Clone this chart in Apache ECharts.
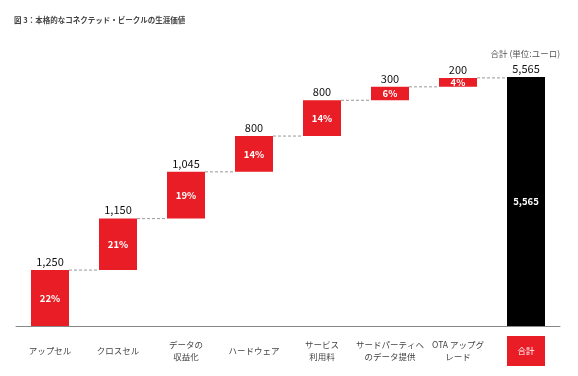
<!DOCTYPE html>
<html>
<head>
<meta charset="utf-8">
<script src="https://cdn.jsdelivr.net/npm/echarts@6/dist/echarts.min.js"></script>
<style>
html, body { margin: 0; padding: 0; background: #fff; }
#chart { width: 578px; height: 376px; }
</style>
</head>
<body>
<div id="chart"></div>
<script>
// 本格的なコネクテッド・ビークルの生涯価値
const categories = ['アップセル', 'クロスセル', 'データの\n収益化', 'ハードウェア', 'サービス\n利用料', 'サードパーティへ\nのデータ提供', 'OTA アップグ\nレード', '合計'];
const values = [1250, 1150, 1045, 800, 800, 300, 200];
const shares = ['22%', '21%', '19%', '14%', '14%', '6%', '4%'];
const total = 5565;

const RED = '#e91d25';
const fmt = v => v.toLocaleString('en-US');

const base = [];
const tops = [];
let acc = 0;
values.forEach(v => { base.push(acc); acc += v; tops.push(acc); });

const chart = echarts.init(document.getElementById('chart'));
const fontFamily = '"Noto Sans CJK JP", "Noto Sans", sans-serif';

const option = {
  animation: false,
  textStyle: { fontFamily: fontFamily },
  title: [
    {
      text: '図 3：本格的なコネクテッド・ビークルの生涯価値',
      left: 9, top: 11,
      textStyle: { fontSize: 7.5, fontWeight: 'bold', color: '#444', fontFamily: fontFamily }
    },
    {
      text: '合計 (単位:ユーロ)',
      right: 13, top: 45,
      textStyle: { fontSize: 8.5, fontWeight: 'normal', color: '#555', fontFamily: fontFamily }
    }
  ],
  grid: { left: 16, right: 18, top: 77, bottom: 50 },
  xAxis: {
    type: 'category',
    data: categories,
    axisTick: { show: false },
    axisLine: { lineStyle: { color: '#888', width: 1 } },
    axisLabel: {
      interval: 0,
      fontSize: 8.5,
      color: '#444',
      lineHeight: 12,
      margin: 25,
      verticalAlign: 'middle',
      formatter: (v, i) => i === 7 ? '{tot|' + v + '}' : v,
      rich: {
        tot: {
          backgroundColor: RED, color: '#fff', width: 38, height: 30,
          lineHeight: 30, align: 'center', fontSize: 8.5
        }
      }
    }
  },
  yAxis: {
    type: 'value', min: 0, max: total, show: false,
    splitLine: { show: false }
  },
  series: [
    {
      name: 'base', type: 'bar', stack: 'w', barWidth: 38,
      itemStyle: { color: 'transparent' },
      data: base.concat([0]),
      silent: true
    },
    {
      name: 'value', type: 'bar', stack: 'w', barWidth: 38,
      itemStyle: { color: RED },
      data: values.map(v => v).concat([{ value: total, itemStyle: { color: '#000' } }]),
      label: {
        show: true, position: 'inside', color: '#fff', fontWeight: 'bold', fontSize: 9.5,
        formatter: p => p.dataIndex < 7 ? shares[p.dataIndex] : fmt(total)
      }
    },
    {
      name: 'top', type: 'bar', barWidth: 38, barGap: '-100%',
      itemStyle: { color: 'transparent' },
      data: tops.concat([total]),
      silent: true,
      label: {
        show: true, position: 'top', distance: 3, color: '#111', fontSize: 11,
        formatter: p => fmt(p.dataIndex < 7 ? values[p.dataIndex] : total)
      }
    },
    {
      name: 'connector', type: 'custom',
      data: tops.map((t, i) => [i, t]),
      silent: true,
      z: 5,
      renderItem: (params, api) => {
        const i = api.value(0);
        const y = api.value(1);
        const p1 = api.coord([i, y]);
        const p2 = api.coord([i + 1, y]);
        return {
          type: 'line',
          shape: { x1: p1[0] + 19, y1: p1[1], x2: p2[0] - 19, y2: p2[1] },
          style: { stroke: '#999', lineWidth: 1, lineDash: [3, 2] }
        };
      }
    }
  ]
};
chart.setOption(option);
</script>
</body>
</html>
